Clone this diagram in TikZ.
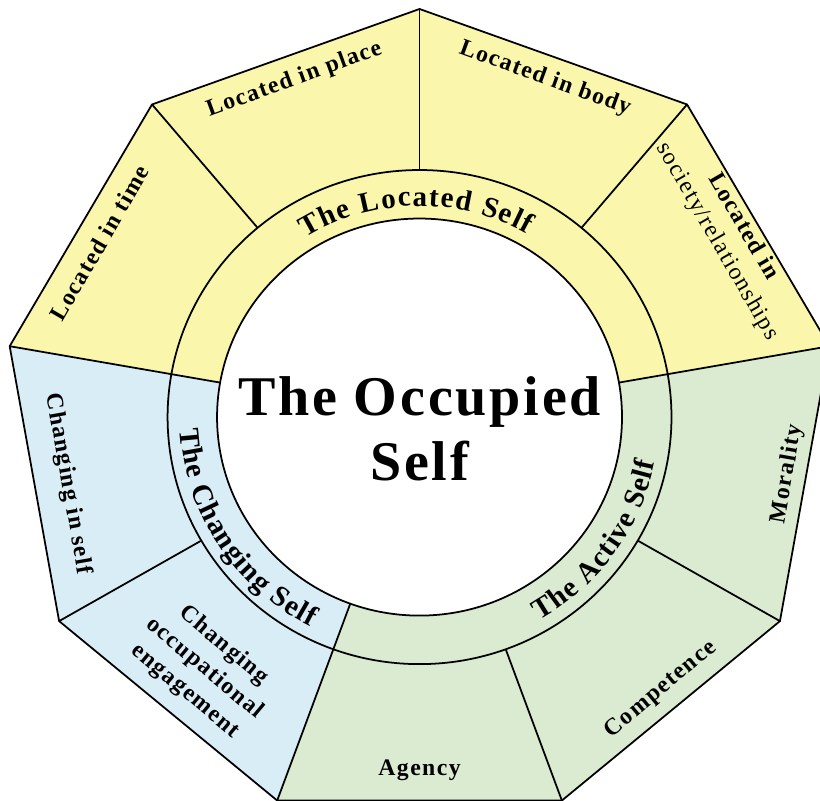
\documentclass[tikz,border=0pt]{standalone}
\usepackage{fontspec}
\setmainfont{Liberation Serif}
\newfontfamily\outerface[LetterSpace=6]{Liberation Serif}
\newfontfamily\ringface{Liberation Serif}
\newfontfamily\titleface[LetterSpace=5]{Liberation Serif}
\usetikzlibrary{decorations.text}

\definecolor{locatedyellow}{HTML}{FAF6AB}
\definecolor{activegreen}{HTML}{DAEBD1}
\definecolor{changingblue}{HTML}{D9EDF7}

\begin{document}
\begin{tikzpicture}[x=0.0204cm, y=0.02cm,
    rim/.style={draw=black, line width=1pt},
    facet/.style={font=\outerface\bfseries\fontsize{13.5}{17}\selectfont, align=center, inner sep=0pt},
    ringtext/.style={decorate, decoration={text along path, text align=fit to path,
        text={|\ringface\bfseries\fontsize{16.5}{20}\selectfont|#1}}}]
    \clip (-411.3,-383) rectangle (392.6,417);
    % corners of the nonagon, the ring and the hub
    \foreach \a [count=\i] in {90,50,10,-30,-70,-110,-150,170,130} {
        \coordinate (V\i) at (\a:408);
        \coordinate (R\i) at (\a:247);
        \coordinate (C\i) at (\a:198.5);
    }
    % coloured bands
    \fill[locatedyellow] (C8) -- (V8) -- (V9) -- (V1) -- (V2) -- (V3) -- (C3)
        arc[start angle=10, end angle=170, radius=198.5] -- cycle;
    \fill[activegreen] (C3) -- (V3) -- (V4) -- (V5) -- (V6) -- (C6)
        arc[start angle=-110, end angle=10, radius=198.5] -- cycle;
    \fill[changingblue] (C6) -- (V6) -- (V7) -- (V8) -- (C8)
        arc[start angle=170, end angle=250, radius=198.5] -- cycle;

    % outlines
    \draw[rim] (V1) -- (V2) -- (V3) -- (V4) -- (V5) -- (V6) -- (V7) -- (V8) -- (V9) -- cycle;
    \draw[rim] (0,0) circle[radius=247];
    \draw[rim] (0,0) circle[radius=198.5];
    \foreach \i in {1,2,4,5,7,9}
        \draw[rim] (V\i) -- (R\i);
    \foreach \i in {3,6,8}
        \draw[rim] (V\i) -- (C\i);

    % ring titles
    \path[ringtext={The Located Self}] (122:211) arc[start angle=122, end angle=60, radius=211];
    \path[ringtext={The Active Self}] (-60:235) arc[start angle=-60, end angle=-11, radius=235];
    \path[ringtext={The Changing Self}] (183:235) arc[start angle=183, end angle=243, radius=235];

    % outer facets
    \node[facet, rotate=60] (time) at (151:359) {Located in time};
    \node[facet, rotate=20] (place) at (110:359) {Located in place};
    \node[facet, rotate=-20] (body) at (70:360) {Located in body};
    \node[facet, rotate=-60] (society) at (31:355) {Located in\\\mdseries society/relationships};
    \node[facet, rotate=80] (morality) at (-9:365) {Morality};
    \node[facet, rotate=40] (competence) at (-49:361) {Competence};
    \node[facet] (agency) at (-90:353) {Agency};
    \node[facet, rotate=-40] (engagement) at (230:328) {Changing\\occupational\\engagement};
    \node[facet, rotate=-80] (inself) at (191:351) {Changing in self};

    % hub
    \node[font=\titleface\bfseries\fontsize{31.9}{37}\selectfont, anchor=base] (title) at (0,2) {The Occupied};
    \node[font=\titleface\bfseries\fontsize{31.9}{37}\selectfont, anchor=base] (titleself) at (0,-63) {Self};
\end{tikzpicture}
\end{document}
